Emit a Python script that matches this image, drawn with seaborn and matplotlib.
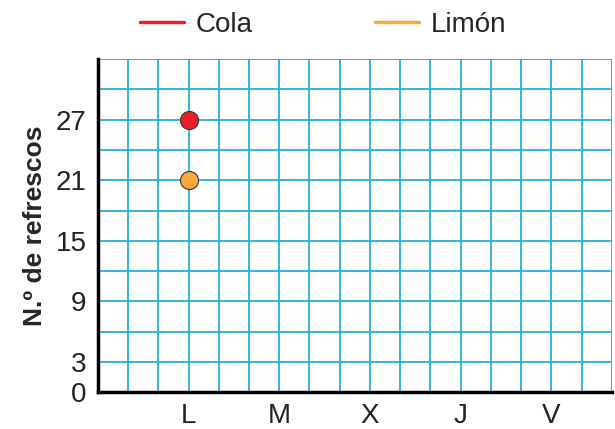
import numpy as np
import pandas as pd
import matplotlib
matplotlib.use("Agg")
import matplotlib.pyplot as plt
from matplotlib.lines import Line2D
import seaborn as sns

# Data
dias = ['L', 'M', 'X', 'J', 'V']
cola = [27, np.nan, np.nan, np.nan, np.nan]
limon = [21, np.nan, np.nan, np.nan, np.nan]
y_ticks = [0, 3, 6, 9, 12, 15, 18, 21, 24, 27, 30]
y_labels = ['0', '3', '', '9', '', '15', '', '21', '', '27', '']

sns.set_style("white")
plt.rcParams['font.family'] = ['Liberation Sans', 'DejaVu Sans']

rojo = '#e8202a'
naranja = '#f7a93b'
azul = '#29abe2'

df = pd.DataFrame({'pos': np.arange(len(dias)), 'Cola': cola, 'Limón': limon})

fig = plt.figure(figsize=(6.15, 4.29), dpi=100)
ax = fig.add_axes([0.159, 0.086, 0.836, 0.776])

# blue grid
for yv in np.arange(3, 34, 3):
    ax.axhline(yv, color=azul, lw=1.3, zorder=0)
for xv in np.arange(-1 + 1/3, 4.7, 1/3):
    ax.axvline(xv, color=azul, lw=1.3, zorder=0)

sns.lineplot(data=df, x='pos', y='Cola', color=rojo, marker='o', markersize=13,
             markeredgecolor='#333333', markeredgewidth=0.8, ax=ax, zorder=3)
sns.lineplot(data=df, x='pos', y='Limón', color=naranja, marker='o', markersize=13,
             markeredgecolor='#333333', markeredgewidth=0.8, ax=ax, zorder=3)

ax.set_xlim(-1, 4.667)
ax.set_ylim(0, 33)
ax.set_xticks(np.arange(len(dias)))
ax.set_xticklabels(dias)
ax.set_yticks(y_ticks)
ax.set_yticklabels(y_labels)
ax.tick_params(axis='both', labelsize=20, width=1.5, length=10, direction='inout',
               color='black', colors='#222222', pad=3)
ax.tick_params(axis='x', length=12, pad=2)

for s in ['top', 'right']:
    ax.spines[s].set_visible(False)
for s in ['left', 'bottom']:
    ax.spines[s].set_linewidth(2.5)
    ax.spines[s].set_color('black')

ax.set_xlabel('')
ax.set_ylabel('N.º de refrescos', fontsize=19, fontweight='bold', labelpad=6)

handles = [Line2D([], [], color=rojo, lw=2.5), Line2D([], [], color=naranja, lw=2.5)]
fig.legend(handles, ['Cola', 'Limón'], loc='upper center', bbox_to_anchor=(0.525, 1.03),
           ncol=2, frameon=False, fontsize=20, handlelength=1.6, handletextpad=0.4,
           columnspacing=4.4)

fig.savefig('out.png', dpi=100)
